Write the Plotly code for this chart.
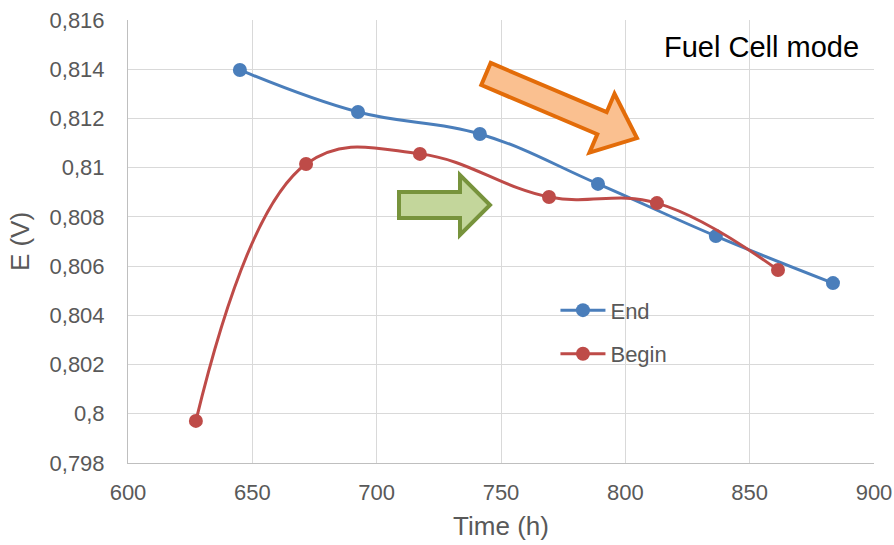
import math
import plotly.graph_objects as go

# ---- data ----
end_time = [645, 692.5, 741.5, 789, 836.4, 883.5]
end_E = [0.81397, 0.81226, 0.81137, 0.80934, 0.80722, 0.80531]
begin_time = [627.3, 671.6, 717.4, 769.3, 812.7, 861.4]
begin_E = [0.79971, 0.81015, 0.81056, 0.80881, 0.80856, 0.80584]
y_tickvals = [0.798, 0.800, 0.802, 0.804, 0.806, 0.808, 0.810, 0.812, 0.814, 0.816]
y_ticktext = ["0,798", "0,8", "0,802", "0,804", "0,806", "0,808", "0,81", "0,812", "0,814", "0,816"]
x_tickvals = [600, 650, 700, 750, 800, 850, 900]

W, H = 894, 545
ML, MR, MT, MB = 128, 20, 20, 82
PW, PH = W - ML - MR, H - MT - MB

def px2paper(x, y):
    return (x - ML) / PW, (H - MB - y) / PH

def arrow_path(cx, cy, ang_deg, length, bh, hh, hl):
    a = math.radians(ang_deg)
    ux, uy = math.cos(a), math.sin(a)
    nx, ny = -uy, ux
    pts_local = [(0, -bh), (length - hl, -bh), (length - hl, -hh), (length, 0),
                 (length - hl, hh), (length - hl, bh), (0, bh)]
    pts = []
    for s, t in pts_local:
        x = cx + s * ux + t * nx
        y = cy + s * uy + t * ny
        pts.append(px2paper(x, y))
    return "M" + " L".join(f"{p[0]:.5f},{p[1]:.5f}" for p in pts) + " Z"

BLUE = "#4A7EBB"
RED = "#BE4B48"
font = "Liberation Sans, Arial, sans-serif"

fig = go.Figure()
fig.add_trace(go.Scatter(x=end_time, y=end_E, name="End", mode="lines+markers",
                         line=dict(color=BLUE, width=3, shape="spline", smoothing=1.15),
                         marker=dict(size=14, color=BLUE), legendgroup="a"))
fig.add_trace(go.Scatter(x=begin_time, y=begin_E, name="Begin", mode="lines+markers",
                         line=dict(color=RED, width=3, shape="spline", smoothing=1.15),
                         marker=dict(size=14, color=RED), legendgroup="b"))

shapes = [
    dict(type="path", xref="paper", yref="paper",
         path=arrow_path(486, 74, 23, 164, 12, 32, 38),
         fillcolor="#FAC090", line=dict(color="#E36C09", width=4), layer="above"),
    dict(type="path", xref="paper", yref="paper",
         path=arrow_path(399, 205, 0, 91, 13, 30, 30),
         fillcolor="#C3D69B", line=dict(color="#77933C", width=4), layer="above"),
]

fig.update_layout(
    width=W, height=H,
    margin=dict(l=ML, r=MR, t=MT, b=MB, autoexpand=False),
    paper_bgcolor="white", plot_bgcolor="white",
    font=dict(family=font, color="#595959", size=22),
    shapes=shapes,
    showlegend=True,
    legend=dict(x=0.573, y=0.392, xanchor="left", yanchor="top", itemwidth=45,
                font=dict(size=22, color="#595959"), bgcolor="rgba(0,0,0,0)",
                tracegroupgap=12, traceorder="grouped"),
    annotations=[dict(text="Fuel Cell mode", xref="paper", yref="paper",
                      x=px2paper(861, 47)[0], y=px2paper(861, 47)[1],
                      xanchor="right", yanchor="middle", showarrow=False,
                      font=dict(size=29, color="black", family=font))],
    xaxis=dict(range=[600, 900], tickvals=x_tickvals, showgrid=True, gridcolor="#D9D9D9",
               gridwidth=1, showline=True, linecolor="#BFBFBF", zeroline=False,
               ticks="outside", ticklen=10, tickcolor="rgba(0,0,0,0)", automargin=False,
               title=dict(text="Time (h)", font=dict(size=26), standoff=12),
               tickfont=dict(size=22, color="#595959")),
    yaxis=dict(range=[0.798, 0.816], tickvals=y_tickvals, ticktext=y_ticktext,
               showgrid=True, gridcolor="#D9D9D9", gridwidth=1, showline=True,
               linecolor="#BFBFBF", zeroline=False, automargin=False,
               ticks="outside", ticklen=18, tickcolor="rgba(0,0,0,0)",
               title=dict(text="E (V)", font=dict(size=26), standoff=12),
               tickfont=dict(size=22, color="#595959")),
)
fig.write_html("out.html")
